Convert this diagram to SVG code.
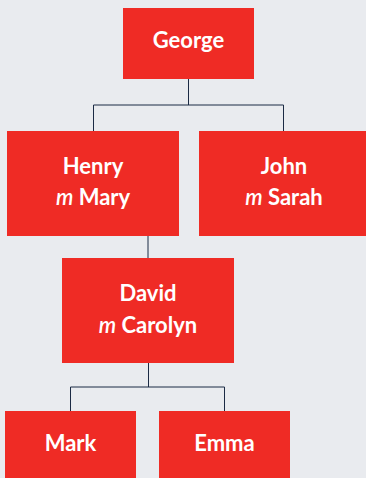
<svg xmlns="http://www.w3.org/2000/svg" width="366" height="478" viewBox="0 0 366 478">
<style>
.bg{fill:#E9EBEF}
.node rect{fill:#EF2B25}
.node text{fill:#FFFFFF;font-family:Lato,"Noto Sans",sans-serif;font-size:22px;font-weight:700;text-anchor:middle}
.node tspan.i{font-style:italic;font-weight:600}
.conn path{fill:none;stroke:#1B2A44;stroke-width:1}
</style>
<rect class="bg" x="0" y="0" width="366" height="478"/>
<g id="connectors" class="conn">
<path d="M188.5 79 V105 M93.5 105 H283.5 M93.5 105 V131 M283.5 105 V131"/>
<path d="M148 236 V258"/>
<path d="M148.5 363 V387 M70.5 387 H224.5 M70.5 387 V411 M224.5 387 V411"/>
</g>
<g id="george" class="node">
<rect x="123" y="8" width="131" height="71"/>
<text x="188.5" y="48">George</text>
</g>
<g id="henry" class="node">
<rect x="7" y="131" width="172" height="105"/>
<text x="93" y="174">Henry</text>
<text x="93" y="205"><tspan class="i">m</tspan> Mary</text>
</g>
<g id="john" class="node">
<rect x="199" y="131" width="170" height="105"/>
<text x="284" y="174">John</text>
<text x="284" y="205"><tspan class="i">m</tspan> Sarah</text>
</g>
<g id="david" class="node">
<rect x="62" y="258" width="172" height="105"/>
<text x="148" y="301">David</text>
<text x="148" y="333"><tspan class="i">m</tspan> Carolyn</text>
</g>
<g id="mark" class="node">
<rect x="5" y="411" width="131" height="71"/>
<text x="70.5" y="451">Mark</text>
</g>
<g id="emma" class="node">
<rect x="159" y="411" width="131" height="71"/>
<text x="224.5" y="451">Emma</text>
</g>
</svg>
